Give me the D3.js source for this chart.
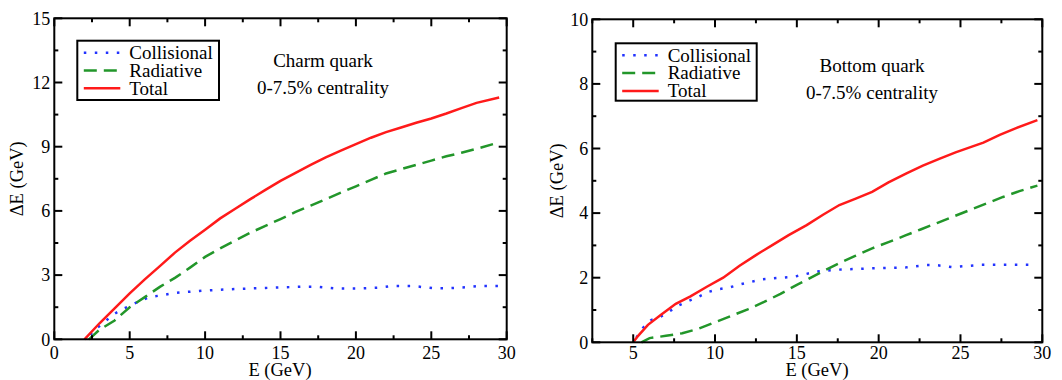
<!DOCTYPE html>
<html>
<head>
<meta charset="utf-8">
<script src="https://cdn.jsdelivr.net/npm/d3@7"></script>
<style>
  html, body { margin: 0; padding: 0; background: #fff; }
  svg { display: block; font-family: "Liberation Serif", "Times New Roman", serif; }
</style>
</head>
<body>
<svg id="chart" width="1062" height="380"></svg>
<script>
// ---------- data ----------
const legendLabels = ["Collisional", "Radiative", "Total"];
const seriesColors = ["#2233ff", "#22962a", "#ff1a1a"];

// Charm quark panel
const charmTitle = ["Charm quark", "0-7.5% centrality"];
const charmXTicks = [0, 5, 10, 15, 20, 25, 30];
const charmYTicks = [0, 3, 6, 9, 12, 15];
const charmCollisional = [
  [2.4,0.2],[2.63,0.43],[3.25,0.75],[3.78,1.09],[4.4,1.37],[5.0,1.56],[5.7,1.8],[6.4,1.99],
  [7.1,2.05],[7.8,2.15],[8.55,2.2],[9.3,2.24],[10,2.28],[12,2.35],[14,2.4],[16.5,2.46],
  [17.3,2.46],[18.7,2.37],[20.1,2.37],[21.6,2.42],[22.4,2.49],[23.8,2.49],[25.2,2.38],
  [26,2.38],[27.4,2.44],[28.2,2.49],[29.5,2.49]
];
const charmRadiative = [
  [2.3,0],[3,0.45],[4,0.88],[5,1.5],[6,1.97],[7,2.45],[8,2.87],[9,3.35],[10,3.85],[11,4.25],
  [12,4.62],[13,4.98],[14,5.3],[15,5.62],[16,5.95],[17,6.25],[18,6.55],[19,6.85],[20,7.15],
  [21,7.45],[22,7.75],[23,7.95],[24,8.15],[25,8.35],[26,8.55],[27,8.72],[28,8.9],[29.5,9.2]
];
const charmTotal = [
  [2.0,0],[3,0.75],[4,1.45],[5,2.15],[6,2.8],[7,3.42],[8,4.05],[9,4.6],[10,5.12],[11,5.65],
  [12,6.1],[13,6.55],[14,6.98],[15,7.4],[16,7.78],[17,8.15],[18,8.5],[19,8.82],[20,9.12],
  [21,9.42],[22,9.68],[23,9.9],[24,10.12],[25,10.32],[26,10.55],[27,10.8],[28,11.05],[29.5,11.3]
];

// Bottom quark panel
const bottomTitle = ["Bottom quark", "0-7.5% centrality"];
const bottomXTicks = [5, 10, 15, 20, 25, 30];
const bottomYTicks = [0, 2, 4, 6, 8, 10];
const bottomCollisional = [
  [5.2,0.15],[5.6,0.45],[6.1,0.69],[6.6,0.77],[7.2,0.95],[7.7,1.12],[8.35,1.27],[9,1.41],
  [9.6,1.56],[10.2,1.64],[10.9,1.7],[11.6,1.8],[12.2,1.87],[12.9,1.95],[14,2.0],[14.85,2.03],
  [16.2,2.19],[17.6,2.25],[19.6,2.29],[21.7,2.32],[22.9,2.39],[23.5,2.39],[24.5,2.33],
  [25.6,2.37],[26.3,2.4],[29.6,2.4]
];
const bottomRadiative = [
  [5.5,0],[6,0.13],[7,0.2],[8,0.28],[9,0.42],[10,0.62],[11,0.82],[12,1.02],[13,1.25],
  [14,1.5],[15,1.78],[15.6,1.93],[16.6,2.2],[17.6,2.45],[18.6,2.68],[19.6,2.91],[20.6,3.1],
  [21.6,3.3],[22.6,3.5],[23.6,3.7],[24.6,3.9],[25.6,4.1],[26.6,4.3],[27.6,4.5],
  [28.6,4.68],[29.7,4.85]
];
const bottomTotal = [
  [5,0],[5.3,0.2],[5.9,0.54],[6.7,0.85],[7.6,1.19],[8.5,1.42],[9.5,1.72],[10.5,2.0],
  [11.5,2.37],[12.5,2.7],[13.5,3.01],[14.5,3.32],[15.6,3.63],[16.6,3.95],[17.6,4.25],
  [18.6,4.45],[19.6,4.66],[20.6,4.95],[21.7,5.23],[22.7,5.47],[23.7,5.68],[24.7,5.88],
  [25.7,6.06],[26.4,6.18],[27.4,6.42],[28.4,6.63],[29.7,6.88]
];

// ---------- drawing ----------
const svg = d3.select("#chart");
const dashes = ["2.5,8.5", "13,7", null];

function panel(cfg) {
  const x = d3.scaleLinear().domain(cfg.xDomain).range([cfg.left, cfg.right]);
  const y = d3.scaleLinear().domain(cfg.yDomain).range([cfg.bottom, cfg.top]);
  const g = svg.append("g");

  // curves
  const line = d3.line().x(d => x(d[0])).y(d => y(d[1]));
  cfg.series.forEach((s, i) => {
    g.append("path").datum(s)
      .attr("d", line)
      .attr("fill", "none")
      .attr("stroke", seriesColors[i])
      .attr("stroke-width", 2.5)
      .attr("stroke-dasharray", dashes[i]);
  });

  // ticks (inward, all four sides)
  const xMajor = cfg.xTicks;
  const xMinor = d3.range(cfg.xDomain[0], cfg.xDomain[1] + 1e-9, cfg.xMinorStep)
    .filter(v => !xMajor.some(m => Math.abs(m - v) < 1e-9));
  const yMajor = cfg.yTicks;
  const yMinor = d3.range(cfg.yDomain[0], cfg.yDomain[1] + 1e-9, cfg.yMinorStep)
    .filter(v => !yMajor.some(m => Math.abs(m - v) < 1e-9));
  const tg = g.append("g").attr("stroke", "#000").attr("stroke-width", 2);
  [[xMajor, 8], [xMinor, 4]].forEach(([vals, len]) => {
    vals.forEach(v => {
      tg.append("line").attr("x1", x(v)).attr("x2", x(v)).attr("y1", cfg.bottom).attr("y2", cfg.bottom - len);
      tg.append("line").attr("x1", x(v)).attr("x2", x(v)).attr("y1", cfg.top).attr("y2", cfg.top + len);
    });
  });
  [[yMajor, 8], [yMinor, 4]].forEach(([vals, len]) => {
    vals.forEach(v => {
      tg.append("line").attr("y1", y(v)).attr("y2", y(v)).attr("x1", cfg.left).attr("x2", cfg.left + len);
      tg.append("line").attr("y1", y(v)).attr("y2", y(v)).attr("x1", cfg.right).attr("x2", cfg.right - len);
    });
  });

  // frame
  g.append("rect")
    .attr("x", cfg.left).attr("y", cfg.top)
    .attr("width", cfg.right - cfg.left).attr("height", cfg.bottom - cfg.top)
    .attr("fill", "none").attr("stroke", "#000").attr("stroke-width", 2);

  // tick labels
  g.selectAll(".xl").data(xMajor).enter().append("text")
    .attr("x", d => x(d)).attr("y", 359)
    .attr("text-anchor", "middle").attr("font-size", 18).text(d => d);
  g.selectAll(".yl").data(yMajor).enter().append("text")
    .attr("x", cfg.left - 4).attr("y", d => y(d)).attr("dy", "0.35em")
    .attr("text-anchor", "end").attr("font-size", 18).text(d => d);

  // axis titles
  g.append("text").attr("x", cfg.xTitleX).attr("y", 376)
    .attr("text-anchor", "middle").attr("font-size", 18.5).text("E (GeV)");
  g.append("text")
    .attr("transform", `translate(${cfg.yTitleX},${(cfg.top + cfg.bottom) / 2}) rotate(-90)`)
    .attr("text-anchor", "middle").attr("dy", "0.35em").attr("font-size", 18.5).text("ΔE (GeV)");

  // legend
  const L = cfg.legend;
  g.append("rect").attr("x", L.x).attr("y", L.y).attr("width", L.w).attr("height", L.h)
    .attr("fill", "#fff").attr("stroke", "#000").attr("stroke-width", 2);
  legendLabels.forEach((lab, i) => {
    const yy = L.y + 12 + i * 17.8;
    g.append("line").attr("x1", L.x + 6.5).attr("x2", L.x + 43).attr("y1", yy).attr("y2", yy)
      .attr("stroke", seriesColors[i]).attr("stroke-width", 2.5)
      .attr("stroke-dasharray", dashes[i]);
    g.append("text").attr("x", L.x + 52).attr("y", yy).attr("dy", "0.33em")
      .attr("font-size", 19).text(lab);
  });

  // annotation
  cfg.title.forEach((t, i) => {
    g.append("text").attr("x", cfg.titleX).attr("y", cfg.titleY + i * 27)
      .attr("text-anchor", "middle").attr("font-size", 19).text(t);
  });
}

panel({
  xDomain: [0, 30], yDomain: [0, 15], xMinorStep: 2.5, yMinorStep: 1.5,
  xTicks: charmXTicks, yTicks: charmYTicks,
  left: 54.3, right: 506.7, top: 18.3, bottom: 339.3,
  series: [charmCollisional, charmRadiative, charmTotal],
  xTitleX: 280, yTitleX: 17,
  legend: { x: 77.3, y: 40.7, w: 141.7, h: 59.3 },
  title: charmTitle, titleX: 323, titleY: 66.5
});

panel({
  xDomain: [2.5, 30], yDomain: [0, 10], xMinorStep: 2.5, yMinorStep: 1,
  xTicks: bottomXTicks, yTicks: bottomYTicks,
  left: 592.3, right: 1042.3, top: 19.3, bottom: 342.3,
  series: [bottomCollisional, bottomRadiative, bottomTotal],
  xTitleX: 817, yTitleX: 556.7,
  legend: { x: 615.7, y: 43.3, w: 141, h: 57.4 },
  title: bottomTitle, titleX: 872, titleY: 71.5
});
</script>
</body>
</html>
